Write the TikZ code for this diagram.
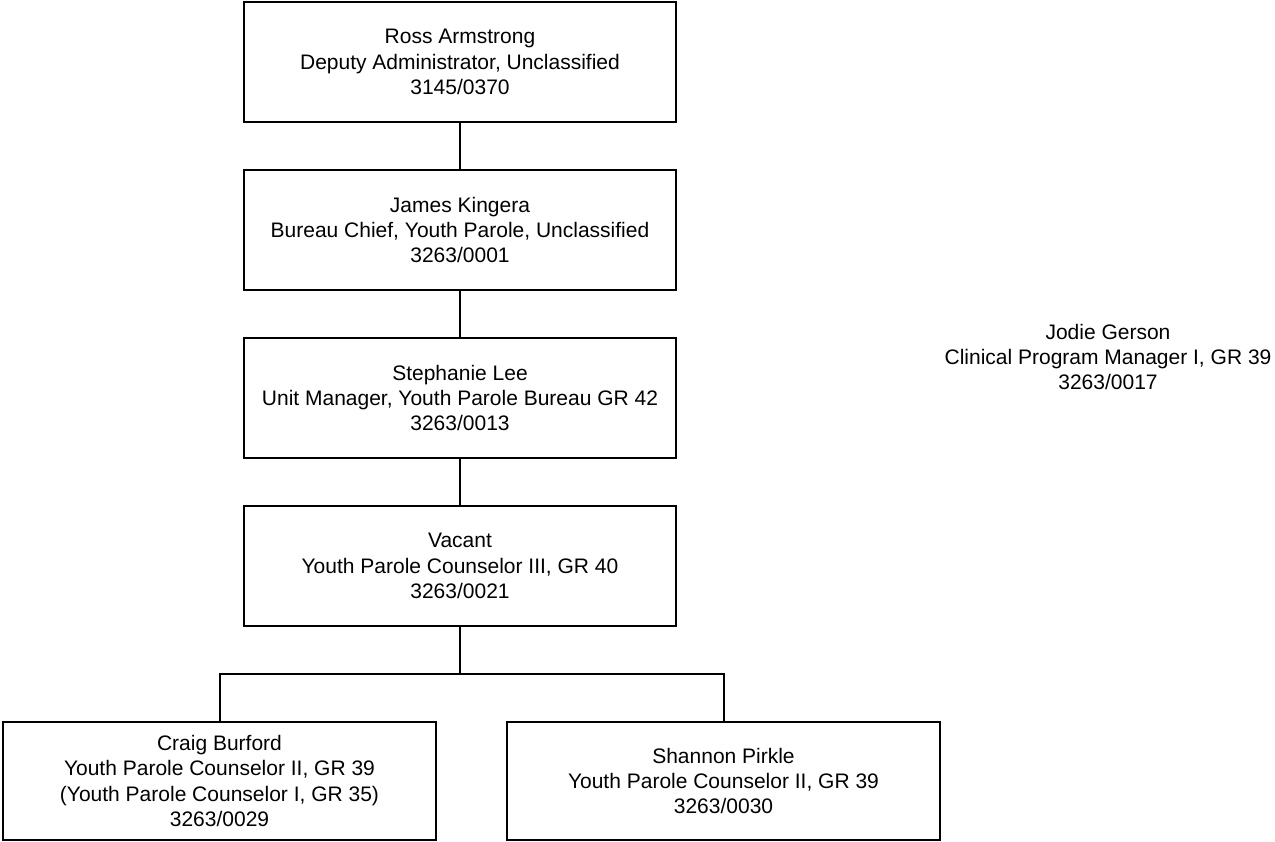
\documentclass[tikz,border=0pt]{standalone}
\usepackage{fontspec}
\setmainfont{Liberation Sans}

\tikzset{every picture/.style={line width=1.5pt}}

\begin{document}
\begin{tikzpicture}[x=0.75pt,y=0.75pt,yscale=-1,xscale=1,
	posbox/.style={draw, rectangle, align=center, minimum width=324pt, minimum height=90pt, inner sep=0pt, font=\fontsize{15.75}{19}\selectfont},
	lowbox/.style={posbox, minimum width=325pt, minimum height=88.5pt},
	freetext/.style={align=center, inner sep=0pt, font=\fontsize{15.75}{19}\selectfont}]
	\useasboundingbox (0,0) rectangle (1275,842);

	% Boxes
	\node [posbox] (admin) at (460,62) {Ross Armstrong\\Deputy Administrator, Unclassified\\3145/0370};
	\node [posbox] (chief) at (460,230) {James Kingera\\Bureau Chief, Youth Parole, Unclassified\\3263/0001};
	\node [posbox] (unitmgr) at (460,398) {Stephanie Lee\\Unit Manager, Youth Parole Bureau GR 42\\3263/0013};
	\node [posbox] (vacant) at (460,566) {Vacant\\Youth Parole Counselor III, GR 40\\3263/0021};
	\node [lowbox] (burford) at (219.5,781) {Craig Burford\\Youth Parole Counselor II, GR 39\\(Youth Parole Counselor I, GR 35)\\3263/0029};
	\node [lowbox] (pirkle) at (723.5,781) {Shannon Pirkle\\Youth Parole Counselor II, GR 39\\3263/0030};

	% Text Node
	\node [freetext] (gerson) at (1108,357) {Jodie Gerson\\Clinical Program Manager I, GR 39\\3263/0017};

	% Lines
	\draw (admin) -- (chief);
	\draw (chief) -- (unitmgr);
	\draw (unitmgr) -- (vacant);
	\coordinate (split) at (460,674);
	\draw (vacant) -- (split);
	\draw (split) -| (burford.north);
	\draw (split) -| (pirkle.north);

\end{tikzpicture}
\end{document}
